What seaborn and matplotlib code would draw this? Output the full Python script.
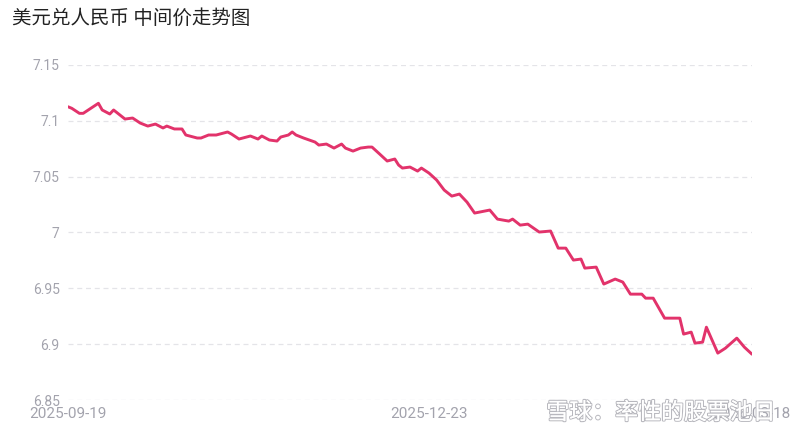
import matplotlib
matplotlib.use('Agg')
import matplotlib.pyplot as plt
import matplotlib.patheffects as pe
import numpy as np
import pandas as pd
import seaborn as sns

title = '美元兑人民币 中间价走势图'
watermark = '雪球：率性的股票池日'
start_date = '2025-09-19'

# days after start_date, and the fixing
day_offsets = [0, 1, 3, 4, 6, 8, 9, 11, 12, 15, 17, 19, 21, 23, 25, 26, 28, 30, 31, 34,
               35, 37, 39, 42, 43, 45, 47, 48, 50, 51, 53, 55, 56, 58, 59, 60, 62, 65, 66, 68,
               70, 72, 73, 75, 77, 79, 80, 82, 84, 86, 87, 88, 90, 92, 93, 95,
               97, 99, 101, 103, 105, 107, 111, 113, 116, 117, 119, 121, 124, 127, 129, 131,
               133, 135, 136, 139, 141, 144, 146, 148, 151, 152, 154, 157, 161, 162, 164, 165,
               167, 168, 171, 173, 176, 178, 180]
rates = [7.1126, 7.1112, 7.1067, 7.1067, 7.1112, 7.1157, 7.1097, 7.1061, 7.1097, 7.1016,
         7.1025, 7.0980, 7.0953, 7.0971, 7.0936, 7.0953, 7.0927, 7.0927, 7.0873, 7.0846,
         7.0846, 7.0873, 7.0873, 7.0900, 7.0882, 7.0837, 7.0855, 7.0864, 7.0837, 7.0864,
         7.0828, 7.0819, 7.0855, 7.0873, 7.0900, 7.0873, 7.0846, 7.0810, 7.0783, 7.0792,
         7.0756, 7.0792, 7.0756, 7.0729, 7.0756, 7.0765, 7.0765, 7.0703, 7.0640, 7.0658,
         7.0604, 7.0577, 7.0586, 7.0550, 7.0577, 7.0532,
         7.0470, 7.0380, 7.0326, 7.0344, 7.0272, 7.0174, 7.0201, 7.0120, 7.0102, 7.0120,
         7.0066, 7.0075, 7.0004, 7.0013, 6.9860, 6.9860, 6.9753, 6.9762, 6.9681, 6.9690,
         6.9538, 6.9583, 6.9556, 6.9448, 6.9448, 6.9412, 6.9412, 6.9233, 6.9233, 6.9090,
         6.9108, 6.9009, 6.9018, 6.9152, 6.8920, 6.8964, 6.9054, 6.8973, 6.8910]

y_ticks = [6.85, 6.9, 6.95, 7.0, 7.05, 7.1, 7.15]
y_labels = ['6.85', '6.9', '6.95', '7', '7.05', '7.1', '7.15']
x_tick_dates = ['2025-09-19', '2025-12-23', '2026-03-18']

df = pd.DataFrame({
    'date': pd.Timestamp(start_date) + pd.to_timedelta(day_offsets, unit='D'),
    'rate': rates,
})

sns.set_theme(style='white')
plt.rcParams['font.family'] = ['Roboto', 'Noto Sans CJK SC', 'DejaVu Sans']

fig = plt.figure(figsize=(8, 4.4), dpi=100)
ax = fig.add_axes([0.085, 0.0909, 0.855, 0.7614])
sns.lineplot(data=df, x='date', y='rate', ax=ax, color='#e2336b', linewidth=2.1,
             solid_joinstyle='round', solid_capstyle='round')

ax.set_ylim(6.85, 7.15)
ax.set_xlim(df['date'].iloc[0], df['date'].iloc[-1])
ax.set_yticks(y_ticks)
ax.set_yticklabels(y_labels)
ax.set_xticks(pd.to_datetime(x_tick_dates))
ax.set_xticklabels(x_tick_dates)
ax.tick_params(axis='both', length=0, labelcolor='#a3a3ad')
ax.tick_params(axis='y', pad=6, labelsize=10)
ax.tick_params(axis='x', pad=5, labelsize=11)
ax.set_xlabel('')
ax.set_ylabel('')
ax.yaxis.grid(True, color='#e4e4e8', linestyle=(0, (4, 3)), linewidth=0.9)
ax.xaxis.grid(False)
for side in ['top', 'right', 'bottom', 'left']:
    ax.spines[side].set_visible(False)

fig.text(0.015, 0.958, title, fontsize=14, color='#222222', va='center', ha='left',
         family=['Noto Sans CJK SC', 'DejaVu Sans'])
wm = fig.text(0.683, 0.062, watermark, fontsize=16.5, color='white', va='center', ha='left',
              family=['Noto Sans CJK SC', 'DejaVu Sans'])
wm.set_path_effects([pe.withStroke(linewidth=1.6, foreground='#b8b8be'), pe.Normal()])

fig.savefig('out.png', dpi=100, facecolor='white')
plt.close(fig)
